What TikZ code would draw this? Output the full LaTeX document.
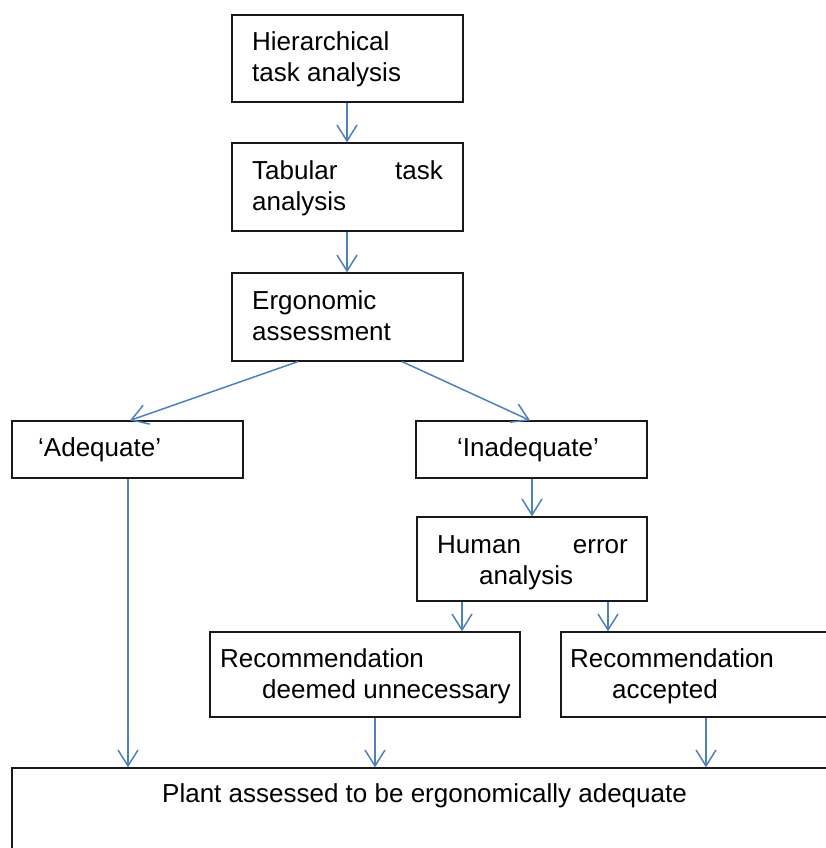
\documentclass[tikz,border=0pt]{standalone}
\usepackage{fontspec}
\setmainfont{Liberation Sans}
\usetikzlibrary{arrows.meta,calc}
\definecolor{flowblue}{RGB}{79,129,189}
\definecolor{edge}{RGB}{25,25,25}
\tikzset{
  box/.style={draw=edge, line width=1.2pt, rectangle, inner sep=0pt, minimum width=#1},
  txt/.style={inner sep=0pt, font=\fontsize{26}{26}\selectfont},
  flow/.style={draw=flowblue, line width=1.5pt, -{Straight Barb[length=16pt,width=20pt,line width=1.5pt]}}
}
\begin{document}
\begin{tikzpicture}[x=1pt,y=-1pt]
\useasboundingbox (0,0) rectangle (826,848);
\clip (0,0) rectangle (826,848);
\fill[white] (0,0) rectangle (826,848);

% boxes
\node[box=231pt, minimum height=87pt] (hta) at (347.5,58.5) {};
\node[box=231pt, minimum height=88pt] (tab) at (347.5,187) {};
\node[box=231pt, minimum height=88pt] (erg) at (347.5,317) {};
\node[box=231pt, minimum height=57pt] (adq) at (127.5,449.5) {};
\node[box=231pt, minimum height=57pt] (inadq) at (531.5,449.5) {};
\node[box=230pt, minimum height=84pt] (hea) at (532,559) {};
\node[box=310pt, minimum height=85pt] (rec1) at (365,674.5) {};
\node[box=280pt, minimum height=85pt] (rec2) at (701,674.5) {};
\node[box=830pt, minimum height=100pt] (plant) at (427,818) {};

% texts
\node[txt, anchor=base west] (t1a) at (252,51) {Hierarchical};
\node[txt, anchor=base west] (t1b) at (252,82) {task analysis};
\node[txt, anchor=base west] (t2a) at (252,179) {Tabular};
\node[txt, anchor=base east] (t2b) at (443,179) {task};
\node[txt, anchor=base west] (t2c) at (252,210) {analysis};
\node[txt, anchor=base west] (t3a) at (252,309) {Ergonomic};
\node[txt, anchor=base west] (t3b) at (252,340) {assessment};
\node[txt, anchor=base west] (t4) at (38,456) {‘Adequate’};
\node[txt, anchor=base west] (t5) at (457,456) {‘Inadequate’};
\node[txt, anchor=base west] (t6a) at (437,553) {Human};
\node[txt, anchor=base east] (t6b) at (628,553) {error};
\node[txt, anchor=base west] (t6c) at (479,584) {analysis};
\node[txt, anchor=base west] (t7a) at (220,667) {Recommendation};
\node[txt, anchor=base west] (t7b) at (262,698) {deemed unnecessary};
\node[txt, anchor=base west] (t8a) at (570,667) {Recommendation};
\node[txt, anchor=base west] (t8b) at (612,698) {accepted};
\node[txt, anchor=base west] (t9) at (162,802) {Plant assessed to be ergonomically adequate};

% connectors
\draw[flow] ([xshift=-0.5pt]hta.south) -- ([xshift=-0.5pt]tab.north);
\draw[flow] ([xshift=-0.5pt]tab.south) -- ([xshift=-0.5pt]erg.north);
\draw[flow] ([xshift=-49.5pt]erg.south) -- ([xshift=2.5pt]adq.north);
\draw[flow] ([xshift=54.5pt]erg.south) -- ([xshift=-1.5pt]inadq.north);
\draw[flow] ([xshift=0.5pt]inadq.south) -- ([xshift=0.5pt]inadq.south |- hea.north);
\draw[flow] ([xshift=-70pt]hea.south) -- ([xshift=-70pt]hea.south |- rec1.north);
\draw[flow] ([xshift=76pt]hea.south) -- ([xshift=76pt]hea.south |- rec2.north);
\draw[flow] ([xshift=0.5pt]adq.south) -- ([xshift=0.5pt]adq.south |- plant.north);
\draw[flow] ([xshift=10pt]rec1.south) -- ([xshift=10pt]rec1.south |- plant.north);
\draw[flow] ([xshift=5pt]rec2.south) -- ([xshift=5pt]rec2.south |- plant.north);
\end{tikzpicture}
\end{document}
